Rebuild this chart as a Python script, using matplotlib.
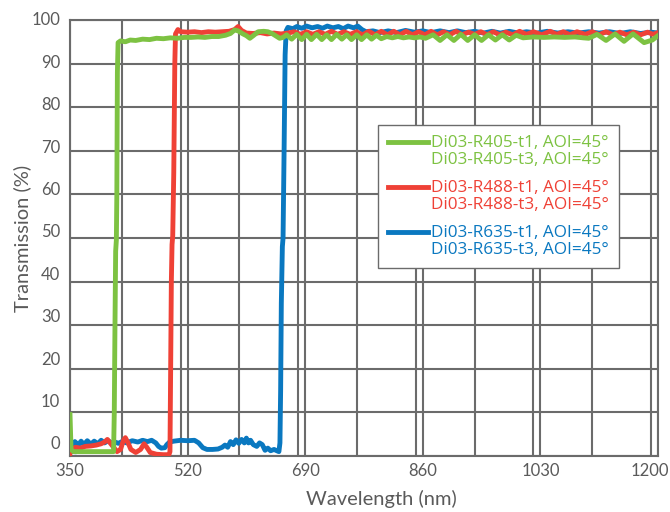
import matplotlib
matplotlib.use("Agg")
import matplotlib.pyplot as plt
import matplotlib.transforms as mtransforms
from matplotlib.ticker import MultipleLocator

plt.rcParams['font.family'] = ['Lato', 'DejaVu Sans']

# --------------------------
# Data (wavelength nm, transmission %)
# --------------------------
wl_405 = [350, 351.5, 355, 380, 413, 414, 415, 416, 417, 417.7, 418.5, 419.5,
          423, 430, 437, 445, 455, 465, 475, 485, 495, 505, 515, 525, 535, 545,
          555, 565, 575, 582, 588, 593, 600, 605, 610, 615, 622, 630, 636, 642,
          647, 653, 658, 663, 670.5, 677.7, 685, 692, 699, 706.5, 714, 721, 728,
          735.5, 743, 750, 757, 764.4, 771.5, 779, 786, 793, 800, 808, 816, 824,
          832, 840, 848, 856, 864, 875, 885, 895, 905, 915, 925, 935, 945, 955,
          965, 975, 985, 995, 1005, 1020, 1035, 1050, 1065, 1080, 1092, 1100,
          1112, 1125, 1138, 1151, 1164, 1180, 1192, 1200]
t_405 = [9.5, 1.5, 1.0, 1.0, 1.0, 10, 30, 47, 49.5, 60, 88, 94.8,
         95.2, 95.0, 95.4, 95.3, 95.6, 95.5, 95.8, 95.7, 95.9, 95.8, 96.0, 96.0,
         96.1, 96.0, 96.2, 96.2, 96.5, 96.9, 97.7, 97.5, 96.8, 96.4, 95.8, 96.4,
         97.3, 97.4, 97.3, 96.9, 96.4, 95.8, 96.0, 96.6, 95.6, 96.7, 95.5, 96.7,
         95.5, 96.7, 95.5, 96.6, 95.5, 96.7, 95.6, 96.6, 95.5, 96.6, 95.5, 96.6,
         95.6, 96.5, 95.7, 96.2, 95.9, 96.2, 95.9, 96.1, 95.9, 96.1, 95.8, 96.6,
         95.3, 96.6, 95.3, 96.7, 95.3, 96.6, 95.3, 96.6, 95.4, 96.6, 95.4, 96.5,
         95.9, 96.1, 96.0, 96.1, 96.0, 96.1, 95.9, 95.8, 96.7, 95.3, 96.8, 95.1,
         96.8, 94.8, 95.4, 96.4]

wl_488 = [350, 352, 358, 365, 372, 380, 388, 395, 400, 404, 408, 413, 418, 423,
          427, 430, 434, 438, 445, 452, 457, 461, 466, 475, 485, 493, 494.5,
          495.5, 496.5, 497.5, 498.5, 500, 501.5, 502.5, 506, 510, 520, 530, 540,
          550, 560, 570, 580, 588, 593, 598, 605, 615, 625, 635, 645, 655, 665,
          674, 683, 692, 701, 710, 719, 728, 737, 746, 755, 764, 773, 782, 791,
          800, 809, 818, 827, 836, 845, 854, 863, 872, 881, 890, 899, 908, 917,
          926, 935, 944, 953, 962, 971, 980, 990, 1000, 1010, 1020, 1032, 1044,
          1054, 1063, 1073, 1083, 1095, 1105, 1115, 1125, 1135, 1145, 1155, 1165,
          1175, 1185, 1193, 1200]
t_488 = [0.5, 1.5, 2.0, 1.8, 2.2, 2.3, 2.5, 2.8, 3.2, 3.8, 3.0, 2.0, 1.0, 1.5,
         3.5, 4.2, 3.0, 1.5, 0.8, 1.5, 2.8, 2.0, 0.8, 0.4, 0.3, 0.3, 1.0,
         20, 40, 48.5, 50.5, 65, 90, 96.8, 97.8, 97.3, 97.2, 97.3, 97.1,
         97.3, 97.2, 97.3, 97.4, 97.8, 98.5, 97.6, 97.0, 96.9, 97.1, 96.8, 97.0,
         96.8, 97.0, 97.3, 96.7, 97.3, 96.7, 97.3, 96.7, 97.4, 96.7, 97.3, 96.7,
         97.3, 96.6, 97.4, 96.6, 97.4, 96.6, 97.4, 96.6, 97.4, 96.6, 97.3, 96.6,
         97.4, 96.6, 97.3, 96.6, 97.4, 96.6, 97.2, 96.7, 97.3, 96.6, 97.3, 96.6,
         97.2, 96.6, 97.4, 96.7, 97.3, 96.6, 97.4, 96.7, 97.3, 96.6, 97.3, 96.7,
         97.3, 96.6, 97.3, 96.6, 97.2, 96.6, 97.2, 96.6, 97.2, 96.7, 97.1]

wl_635 = [356, 357, 362, 366, 370, 375, 380, 385, 390, 395, 400, 405, 410, 415,
          420, 425, 432, 440, 448, 455, 462, 468, 474, 478, 482, 487, 490, 494,
          500, 510, 520, 530, 536, 542, 548, 556, 564, 570, 574, 578, 582, 586,
          590, 594, 598, 602, 605, 608, 611, 615, 620, 624, 628, 632, 636, 640,
          645, 649, 652, 653.5, 654.5, 655.5, 657, 658, 659.5, 661, 662.5, 665,
          672, 678, 685, 692, 700, 708, 715, 722, 730, 738, 745, 752, 760, 766,
          772, 778, 788, 798, 810, 822, 835, 848, 860, 872, 885, 898, 910, 922,
          935, 948, 960, 972, 985, 998, 1010, 1025, 1040, 1055, 1070, 1085, 1100,
          1115, 1130, 1145, 1160, 1175, 1190, 1200]
t_635 = [1.0, 3.3, 2.5, 3.4, 2.6, 3.5, 2.7, 3.4, 2.8, 3.6, 3.0, 3.5, 3.0, 3.2,
         2.9, 3.3, 3.0, 3.5, 3.2, 3.6, 3.3, 3.6, 3.0, 2.2, 1.8, 1.9, 2.6, 3.2,
         3.4, 3.6, 3.5, 3.6, 3.0, 1.9, 1.5, 1.5, 1.6, 2.0, 2.5, 2.0, 3.3, 2.6,
         3.7, 2.9, 3.8, 3.0, 4.1, 3.0, 3.6, 2.6, 2.2, 3.0, 2.6, 1.3, 1.8, 1.2,
         1.5, 1.2, 1.0, 3.0, 15, 35, 48, 50, 70, 92, 97.5, 98.3,
         98.0, 98.5, 98.1, 98.6, 98.2, 98.5, 98.1, 98.6, 98.2, 98.5, 98.0, 98.6,
         98.2, 98.6, 97.8, 97.3, 97.5, 97.1, 97.5, 97.1, 97.6, 97.2, 97.5, 97.1,
         97.5, 97.1, 97.5, 97.1, 97.4, 97.0, 97.4, 97.0, 97.4, 97.0, 97.3, 97.0,
         97.4, 97.0, 97.3, 97.0, 97.3, 97.0, 97.3, 96.9, 97.3, 96.9, 97.2, 97.0]

labels_405 = "Di03-R405-t1, AOI=45°\nDi03-R405-t3, AOI=45°"
labels_488 = "Di03-R488-t1, AOI=45°\nDi03-R488-t3, AOI=45°"
labels_635 = "Di03-R635-t1, AOI=45°\nDi03-R635-t3, AOI=45°"

x_ticks = [350, 520, 690, 860, 1030, 1200]
y_ticks = [0, 10, 20, 30, 40, 50, 60, 70, 80, 90, 100]

GREEN = '#7dc242'
RED = '#ef4136'
BLUE = '#0a78c0'
GRID = '#6b6b6b'
TXT = '#5a5a5a'

# --------------------------
# Plot
# --------------------------
fig = plt.figure(figsize=(6.7, 5.12), dpi=100)
ax = fig.add_axes([0.1045, 0.1094, 0.8775, 0.8516])

ax.plot(wl_635, t_635, color=BLUE, lw=3.5, label=labels_635, zorder=3)
ax.plot(wl_488, t_488, color=RED, lw=3.5, label=labels_488, zorder=4)
ax.plot(wl_405, t_405, color=GREEN, lw=3.5, label=labels_405, zorder=5)

ax.set_xlim(350, 1200)
ax.set_ylim(0, 100)
ax.set_xticks(x_ticks)
ax.xaxis.set_minor_locator(MultipleLocator(85))
ax.set_yticks(y_ticks)
ax.grid(True, which='both', color=GRID, lw=1.5, zorder=1)
ax.set_axisbelow(True)
ax.tick_params(which='both', length=0, labelsize=12, labelcolor=TXT)
ax.tick_params(axis='x', pad=5)
ax.tick_params(axis='y', pad=7)
for sp in ax.spines.values():
    sp.set_color(GRID)
    sp.set_linewidth(1.5)

# y tick labels sit a bit higher than their gridlines, more so near the bottom
for v, lab in zip(y_ticks, ax.get_yticklabels()):
    dy = (13 - 0.12 * v) / 100.0
    lab.set_transform(lab.get_transform() +
                      mtransforms.ScaledTranslation(0, dy, fig.dpi_scale_trans))
# last x label pulled in so it stays inside the picture
last = ax.get_xticklabels()[-1]
last.set_transform(last.get_transform() +
                   mtransforms.ScaledTranslation(-0.08, 0, fig.dpi_scale_trans))

ax.set_xlabel("Wavelength (nm)", fontsize=14.5, color=TXT)
ax.xaxis.set_label_coords(0.53, -0.077)
ax.set_ylabel("Transmission (%)", fontsize=14.5, color=TXT)
ax.yaxis.set_label_coords(-0.066, 0.5)

h, l = ax.get_legend_handles_labels()
order = [2, 1, 0]
leg = ax.legend([h[i] for i in order], [l[i] for i in order],
                loc='upper left', bbox_to_anchor=(0.524, 0.76),
                borderaxespad=0, handlelength=2.3,
                prop={'family': ['Open Sans', 'DejaVu Sans'], 'size': 12.3},
                handletextpad=0.2, labelspacing=0.72, borderpad=0.6,
                fancybox=False, framealpha=1, edgecolor=GRID)
leg.get_frame().set_linewidth(1.0)
for txt, c in zip(leg.get_texts(), [GREEN, RED, BLUE]):
    txt.set_color(c)
    txt.set_linespacing(1.06)
# handle lines sit level with the first line of each label
for ln in leg.get_lines():
    ln.set_ydata([y + 6.5 for y in ln.get_ydata()])

fig.savefig("out.png", dpi=100)
